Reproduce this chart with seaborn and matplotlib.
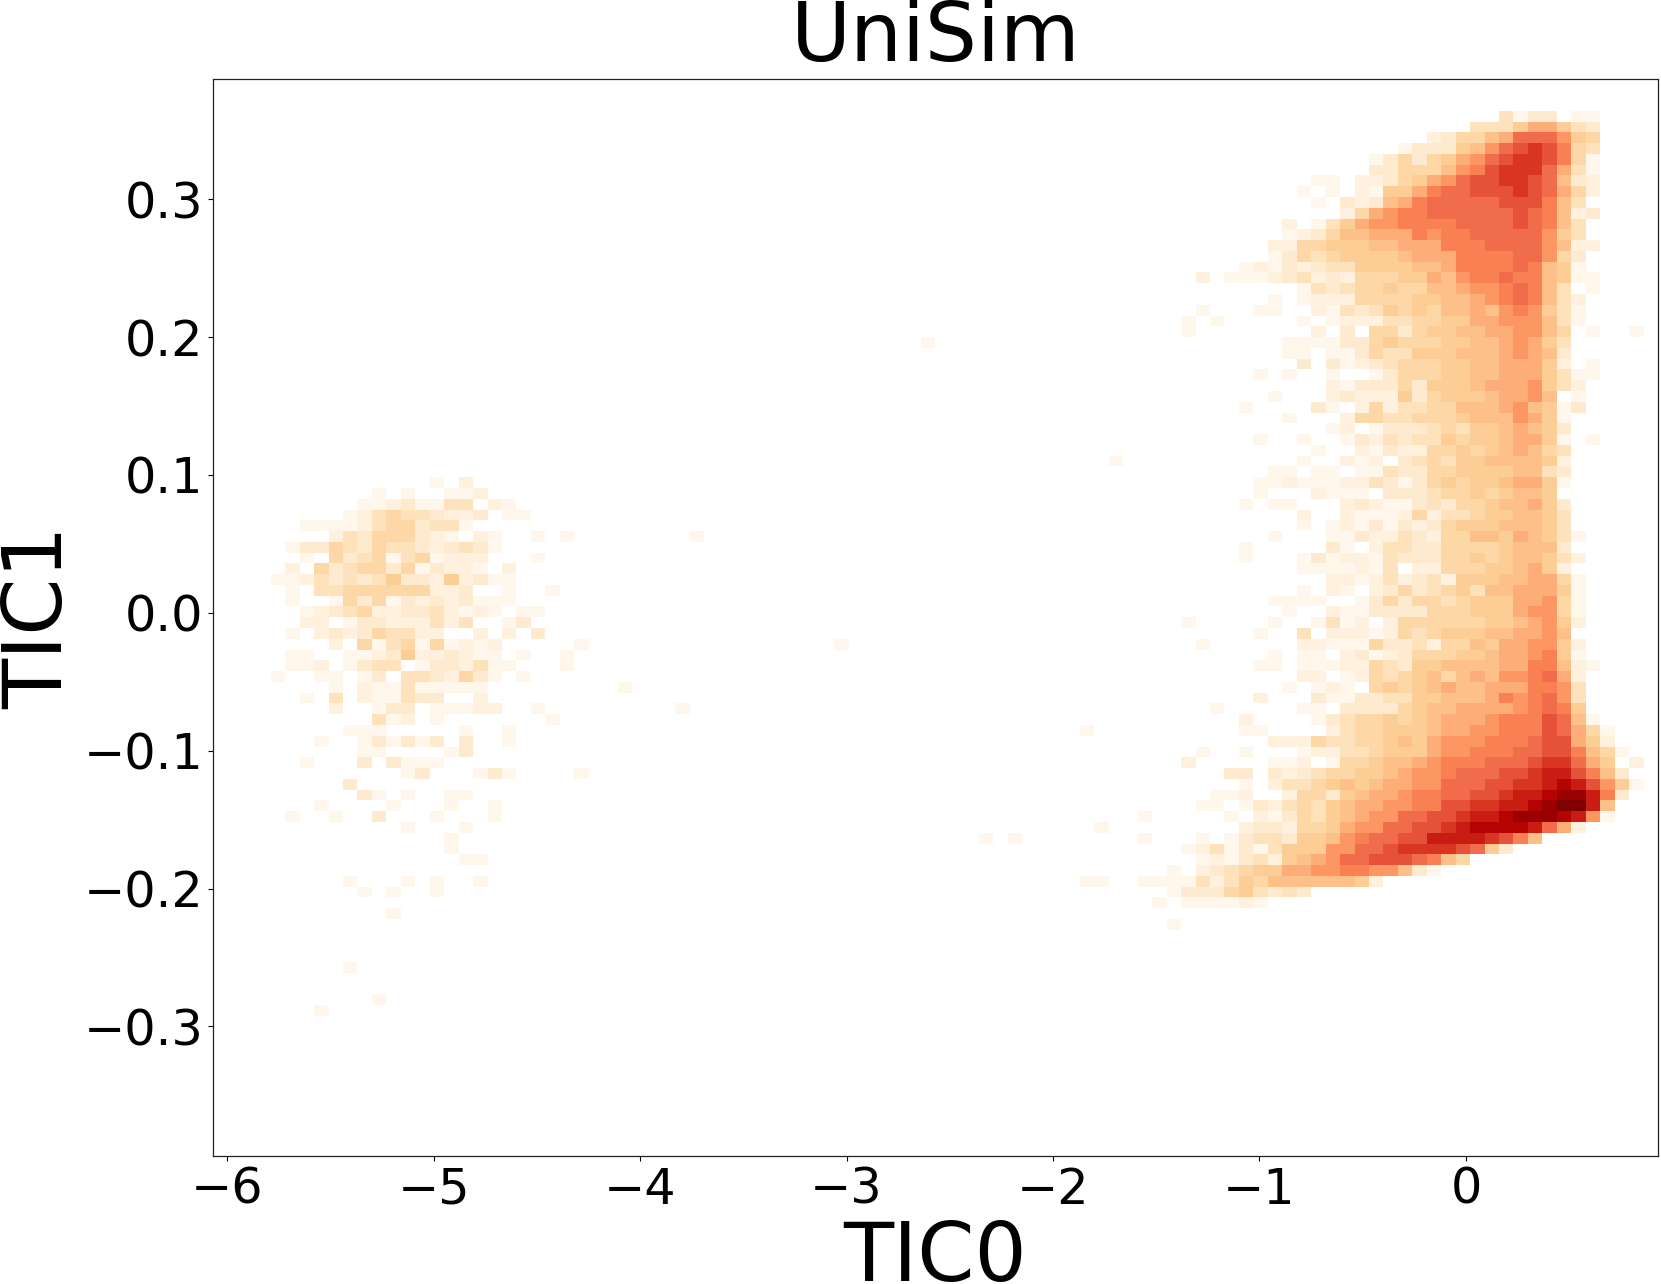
import numpy as np
import matplotlib
matplotlib.use("Agg")
import matplotlib.pyplot as plt
from matplotlib.colors import PowerNorm
import seaborn as sns

# 100 x 100 histogram.
# Each character is a colour level: . empty, then 1..9, a..h (base 18), spaces are only for reading.
X_RANGE = (-6.068, 0.930)
Y_RANGE = (-0.394, 0.3875)
N_BINS = 100
N_LEVELS = 17

# right cluster: starts at column 66, row 3
RIGHT_COL = 66
RIGHT_ROW = 3
RIGHT_LEVELS = [
    ".......... .......... ...4133.11",
    ".......... .......... .444688643",
    ".......... ........23 5578bbb965",
    ".......... ......1333 679bcdca54",
    ".......... ....135356 89bcddca51",
    ".......... ....335557 9acdddb841",
    ".......... 11.2235689 bccddcb732",
    ".........1 .1.21668ab bcccdcb852",
    ".......... 1.32378abb bbbccca74.",
    ".......... ..2589aabb bbbbcba723",
    "........2. 146899aaaa bbbbcba74.",
    "........12 3577888a9a abbbbb964.",
    ".......225 566677888a aabbbb9722",
    ".......135 4566667888 aaaabb953.",
    ".....12132 3446666778 aaaaba761.",
    "..2.111234 2325556687 9aabaa7611",
    ".........1 4345565577 899aba74.1",
    ".......1.1 2225555667 789aba742.",
    "..1...11.. 2143465657 7879a9641.",
    ".1.1.....1 .122244556 688999741.",
    ".1........ 2.3.553566 77889975.1 ..1.",
    "........11 1133565556 67789864..",
    "........11 .113544666 77789873..",
    ".........3 .312345556 67788862.1",
    "......1.1. .1..135556 6778886411",
    ".......... .213335366 678889642.",
    ".......1.. .232226356 6678897.1.",
    ".....1.... 31.2524455 777897613.",
    "........1. ..25544555 67779861..",
    ".......... .12.133345 46678763..",
    "......1..1 ..13243446 56678861.1",
    ".......... 1..2132255 65678754..",
    ".........1 ..212.3454 66777762..",
    ".......11. 11.1143355 66667743..",
    "......1121 1122431356 56678861..",
    "......1... 2111.33345 5656776...",
    ".....1.11. ..23211343 55677863..",
    ".........2 ..21112524 45667764..",
    ".........1 .121313235 66677764..",
    ".......1.. .113224325 577687641.",
    ".....1.... .31.244335 55567773..",
    ".....1...1 3122143335 565677642.",
    ".........1 111214.225 55667862..",
    ".......... .221242342 666778851.",
    ".........1 .21.235345 647788861.",
    ".......111 1..1353554 566688951.",
    "........1. .211333355 566689951.",
    ".1.....1.. 1412.25555 556678962.",
    "......1..4 .222125456 66778897..",
    "..1......2 2111533425 576889962.",
    ".......1.1 1.23123555 667889a61.",
    "......11.1 1122543667 77788aa721",
    ".........2 2.12545675 78799ab82.",
    "........1. 121.565678 77888aa94.",
    "......2... 3113344667 778a9ab94.",
    "...1.....1 1.33335677 88889aba6.",
    ".....2.... 1345565678 889aaacb71",
    ".....11... .245566678 899aaacb85 1",
    ".......222 5445567689 99aaabcc86 2",
    "..1..1...1 2244566689 9aaabbcca7 51",
    ".2.....112 .15567789a aabbbcddb8 6.2",
    "....33.323 455667899a bbbccdeeca 73",
    ".....1.244 567678899b bbccddefec 961",
    "...112..25 5367889aab bccdeefgge a3",
    "..11.13245 4678899aac cddeefghhe 7",
    "....1.2135 467899bbcc deefgggfe9 1",
    ".....23325 56899bbccd effffeb82.",
    "..1.134436 679abbccee eedca7",
    ".124131466 699bbcdddd cb63",
    "..12134267 89bbcccba7 5",
    "1.23456688 99aa99731.",
    "1142465777 77762",
    "1333564343",
    ".111121",
    "",
    "1",
]

# left cluster: starts at column 4, row 37
LEFT_COL = 4
LEFT_ROW = 37
LEFT_LEVELS = [
    "...... .....1.2..",
    "...... .1.1..112.",
    "...... 11231144.2 1",
    ".....1 245443223. 11",
    "..1111 24553441..",
    "....24 3555321.21 ..1.1",
    ".13354 3544323431",
    "..1.53 451451222. ..1",
    ".2.534 553513221. 2",
    "112434 3463326231 1",
    ".1.445 55555223.. 1..1",
    ".1..15 3513232311 1",
    "..1234 5223342121 .11",
    "..22.1 33222424.. 13",
    ".1.232 354422..2. 2.3",
    "....2. 5145151212 .....1",
    ".11..1 1236223211 .1..1",
    ".112.1 344.133241 1...1",
    "1..11. 13.4432531 .1",
    "....1. 211411111.",
    "..1.4. 211433..2.",
    "....2. .133.11122 ..1",
    "...... .412.1.... ...1",
    ".....1 11.....1.. 1",
    "...1.. 131313.3.. 1",
    "...... 11....13..",
    "..1... 3.3111....",
    "...... ...13...13 1....1",
    ".....3",
    "...... 31.1..11..",
    "...1.. ..1...1..1",
    ".1..1. .3...1...1",
    "...... ...1...1..",
    "...... ......1",
    "...... ......1",
    "...... .......11",
    "",
    ".....1 ...1.1..1",
    "...... 1.1..1",
    "",
    "...... ..1",
    "", "", "", "",
    ".....1",
    "", "",
    "...... .1",
    "...1",
]

# single faint cells out in the gap
STRAY_COLS = [49, 62, 33, 43, 28, 32, 60, 64, 61, 53, 55, 64, 60, 61, 64, 65, 65]
STRAY_ROWS = [24, 35, 42, 52, 56, 58, 60, 68, 69, 70, 70, 70, 74, 74, 74, 74, 76]

XTICKS = [-6, -5, -4, -3, -2, -1, 0]
YTICKS = [-0.3, -0.2, -0.1, 0.0, 0.1, 0.2, 0.3]

x_edges = np.linspace(X_RANGE[0], X_RANGE[1], N_BINS + 1)
y_edges = np.linspace(Y_RANGE[1], Y_RANGE[0], N_BINS + 1)  # row 0 is the top row
x_centers = (x_edges[:-1] + x_edges[1:]) / 2
y_centers = (y_edges[:-1] + y_edges[1:]) / 2

xs, ys, weights = [], [], []


def add_block(rows, first_col, first_row):
    for r, row in enumerate(rows):
        for c, ch in enumerate(row.replace(" ", "")):
            if ch != ".":
                xs.append(x_centers[first_col + c])
                ys.append(y_centers[first_row + r])
                weights.append(int(ch, 18))


add_block(RIGHT_LEVELS, RIGHT_COL, RIGHT_ROW)
add_block(LEFT_LEVELS, LEFT_COL, LEFT_ROW)
for col, row in zip(STRAY_COLS, STRAY_ROWS):
    xs.append(x_centers[col])
    ys.append(y_centers[row])
    weights.append(1)

sns.set_style("ticks")
plt.rcParams["font.family"] = "DejaVu Sans"
plt.rcParams["text.color"] = "black"
plt.rcParams["axes.labelcolor"] = "black"
plt.rcParams["axes.edgecolor"] = "#222222"
plt.rcParams["xtick.color"] = "black"
plt.rcParams["ytick.color"] = "black"

W, H = 1661, 1284
fig = plt.figure(figsize=(W / 100, H / 100), dpi=100)
ax = fig.add_axes([213 / W, 1 - 1156 / H, 1445 / W, 1077.5 / H])

sns.histplot(x=xs, y=ys, weights=weights, bins=N_BINS,
             binrange=(X_RANGE, Y_RANGE), cmap="OrRd", thresh=0, ax=ax)
# my levels came out a bit heavy in the orange range
ax.collections[0].set_norm(PowerNorm(1.07, vmin=1, vmax=N_LEVELS))

ax.set_xlim(*X_RANGE)
ax.set_ylim(*Y_RANGE)
ax.set_xticks(XTICKS)
ax.set_yticks(YTICKS)
ax.tick_params(labelsize=35.5, length=3.5, width=0.8)
for spine in ax.spines.values():
    spine.set_visible(True)
    spine.set_linewidth(0.9)

ax.set_title("UniSim", fontsize=59, pad=5)
ax.set_xlabel("TIC0", fontsize=59, labelpad=4)
ax.set_ylabel("TIC1", fontsize=59, labelpad=3)

fig.savefig("out.png", dpi=100)
